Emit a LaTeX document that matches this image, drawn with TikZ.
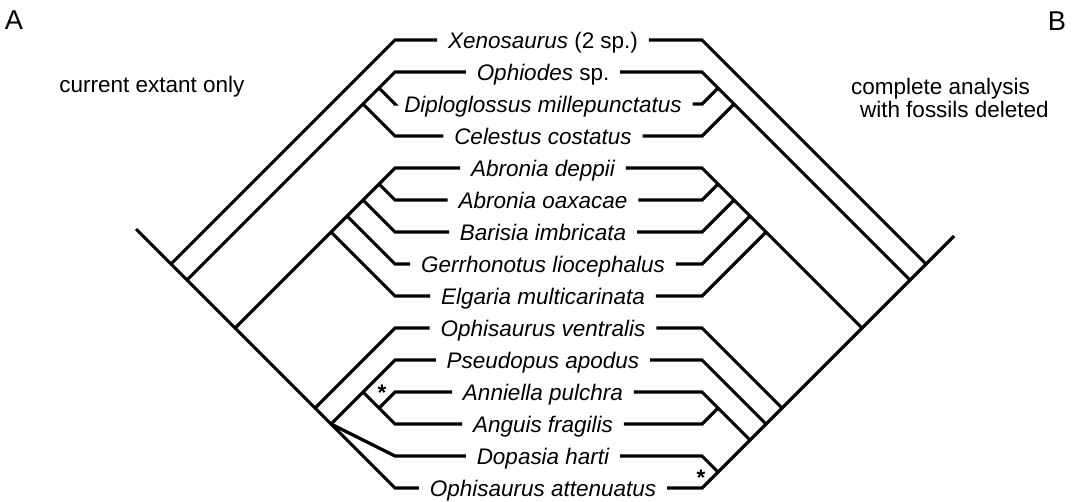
\documentclass[tikz,border=0pt]{standalone}
\usepackage{fontspec}
\setmainfont{Liberation Sans}
\usepackage{tikz}

\begin{document}
\begin{tikzpicture}[
  x=0.02cm, y=-0.02cm,
  every node/.style={font=\fontsize{12.8}{13}\selectfont, inner sep=0pt},
  taxon/.style={font=\fontsize{12.8}{13}\selectfont\itshape,
    text height=9.16pt, text depth=0pt, inner xsep=6pt},
  caption/.style={align=left},
  panel/.style={font=\fontsize{15.5}{16}\selectfont},
  astx/.style={font=\fontsize{12.8}{13}\selectfont\bfseries},
  branch/.style={line width=1.8pt, line join=miter},
]
  \useasboundingbox (0,0) rectangle (1077,501);

  \node[panel] (pa) at (14,20) {A};
  \node[panel] (pb) at (1057,21) {B};
  \node[caption] (capa) at (152,87) {current extant only};
  \node[caption] (capb) at (950,98) {complete analysis\\\hspace*{5pt}with fossils deleted};

  \node[taxon] (xen)  at (543,40)  {Xenosaurus \upshape(2 sp.)};
  \node[taxon] (oph)  at (543,72)  {Ophiodes \upshape sp.};
  \node[taxon] (dip)  at (543,104) {Diploglossus millepunctatus};
  \node[taxon] (cel)  at (543,136) {Celestus costatus};
  \node[taxon] (adep) at (543,168) {Abronia deppii};
  \node[taxon] (aoax) at (543,200) {Abronia oaxacae};
  \node[taxon] (bar)  at (543,232) {Barisia imbricata};
  \node[taxon] (ger)  at (543,264) {Gerrhonotus liocephalus};
  \node[taxon] (elg)  at (543,296) {Elgaria multicarinata};
  \node[taxon] (oven) at (543,328) {Ophisaurus ventralis};
  \node[taxon] (pse)  at (543,360) {Pseudopus apodus};
  \node[taxon] (ann)  at (543,392) {Anniella pulchra};
  \node[taxon] (ang)  at (543,424) {Anguis fragilis};
  \node[taxon] (dop)  at (543,456) {Dopasia harti};
  \node[taxon] (oatt) at (543,488) {Ophisaurus attenuatus};

  \coordinate (lxen)  at (395,40);
  \coordinate (loph)  at (395,72);
  \coordinate (ldip)  at (395,104);
  \coordinate (lcel)  at (395,136);
  \coordinate (ladep) at (395,168);
  \coordinate (laoax) at (395,200);
  \coordinate (lbar)  at (395,232);
  \coordinate (lger)  at (395,264);
  \coordinate (lelg)  at (395,296);
  \coordinate (loven) at (395,328);
  \coordinate (lpse)  at (395,360);
  \coordinate (lann)  at (395,392);
  \coordinate (lang)  at (395,424);
  \coordinate (ldop)  at (395,456);
  \coordinate (loatt) at (395,488);

  \coordinate (lroot) at (171,264);
  \coordinate (ldipl) at (187,280);
  \coordinate (lod)   at (379,88);
  \coordinate (loc)   at (363,104);
  \coordinate (lgerr) at (235,328);
  \coordinate (la1)   at (379,184);
  \coordinate (la2)   at (363,200);
  \coordinate (la3)   at (347,216);
  \coordinate (la4)   at (331,232);
  \coordinate (lanon) at (315,408);
  \coordinate (lpoly) at (331,424);
  \coordinate (lps)   at (363,392);
  \coordinate (lan)   at (379,408);
  \coordinate (lstem) at (136,229);

  \coordinate (rxen)  at (702,40);
  \coordinate (roph)  at (702,72);
  \coordinate (rdip)  at (702,104);
  \coordinate (rcel)  at (702,136);
  \coordinate (radep) at (702,168);
  \coordinate (raoax) at (702,200);
  \coordinate (rbar)  at (702,232);
  \coordinate (rger)  at (702,264);
  \coordinate (relg)  at (702,296);
  \coordinate (roven) at (702,328);
  \coordinate (rpse)  at (702,360);
  \coordinate (rann)  at (702,392);
  \coordinate (rang)  at (702,424);
  \coordinate (rdop)  at (702,456);
  \coordinate (roatt) at (702,488);

  \coordinate (rroot) at (926,264);
  \coordinate (rdipl) at (910,280);
  \coordinate (rod)   at (718,88);
  \coordinate (roc)   at (734,104);
  \coordinate (rgerr) at (862,328);
  \coordinate (ra1)   at (718,184);
  \coordinate (ra2)   at (734,200);
  \coordinate (ra3)   at (750,216);
  \coordinate (ra4)   at (766,232);
  \coordinate (ranon) at (782,408);
  \coordinate (rps)   at (766,424);
  \coordinate (ran)   at (750,440);
  \coordinate (rag)   at (718,408);
  \coordinate (rdo)   at (718,472);
  \coordinate (rstem) at (954,236);

  \draw[branch] (xen.west)  -- (lxen)  -- (lroot);
  \draw[branch] (oph.west)  -- (loph)  -- (ldipl);
  \draw[branch] (dip.west)  -- (ldip)  -- (lod);
  \draw[branch] (cel.west)  -- (lcel)  -- (loc);
  \draw[branch] (adep.west) -- (ladep) -- (lgerr);
  \draw[branch] (aoax.west) -- (laoax) -- (la1);
  \draw[branch] (bar.west)  -- (lbar)  -- (la2);
  \draw[branch] (ger.west)  -- (lger)  -- (la3);
  \draw[branch] (elg.west)  -- (lelg)  -- (la4);
  \draw[branch] (oven.west) -- (loven) -- (lanon);
  \draw[branch] (pse.west)  -- (lpse)  -- (lpoly);
  \draw[branch] (ann.west)  -- (lann)  -- (lan);
  \draw[branch] (ang.west)  -- (lang)  -- (lps);
  \draw[branch] (dop.west)  -- (ldop)  -- (lpoly);
  \draw[branch] (oatt.west) -- (loatt) -- (lstem);

  \draw[branch] (xen.east)  -- (rxen)  -- (rroot);
  \draw[branch] (oph.east)  -- (roph)  -- (rdipl);
  \draw[branch] (dip.east)  -- (rdip)  -- (rod);
  \draw[branch] (cel.east)  -- (rcel)  -- (roc);
  \draw[branch] (adep.east) -- (radep) -- (rgerr);
  \draw[branch] (aoax.east) -- (raoax) -- (ra1);
  \draw[branch] (bar.east)  -- (rbar)  -- (ra2);
  \draw[branch] (ger.east)  -- (rger)  -- (ra3);
  \draw[branch] (elg.east)  -- (relg)  -- (ra4);
  \draw[branch] (oven.east) -- (roven) -- (ranon);
  \draw[branch] (pse.east)  -- (rpse)  -- (rps);
  \draw[branch] (ann.east)  -- (rann)  -- (ran);
  \draw[branch] (ang.east)  -- (rang)  -- (rag);
  \draw[branch] (dop.east)  -- (rdop)  -- (rdo);
  \draw[branch] (oatt.east) -- (roatt) -- (rstem);

  \node[astx] (s1) at (382,393) {*};
  \node[astx] (s2) at (701,478) {*};
\end{tikzpicture}
\end{document}
